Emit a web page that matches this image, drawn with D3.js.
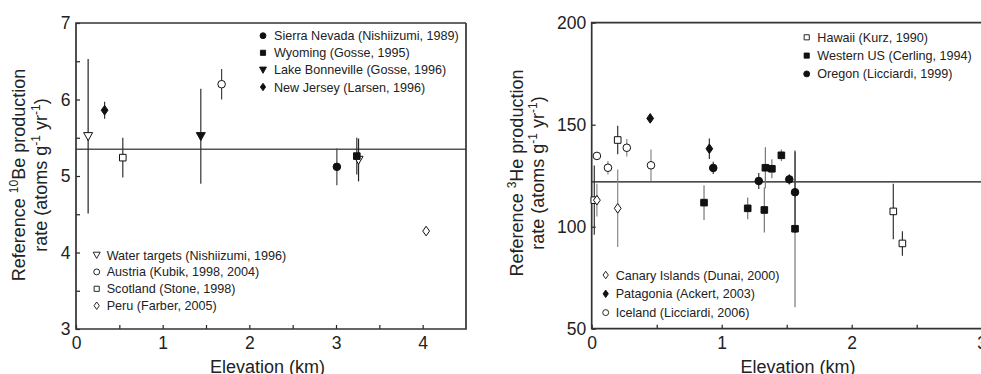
<!DOCTYPE html>
<html><head><meta charset="utf-8">
<script src="https://cdn.jsdelivr.net/npm/d3@7"></script>
<style>
html,body{margin:0;padding:0;background:#fff;}
svg{display:block;font-family:"Liberation Sans",Arial,Helvetica,sans-serif;}
</style></head>
<body>
<svg id="chart" width="981" height="374"></svg>
<script>
// ---------- DATA: left panel (10Be) — [elevation km, rate, error] ----------
const beSierraNevada   = [[3.01, 5.12, 0.24]];
const beWyoming        = [[3.24, 5.26, 0.24]];
const beLakeBonneville = [[1.44, 5.52, 0.62]];
const beNewJersey      = [[0.33, 5.86, 0.11]];
const beWaterTargets   = [[0.14, 5.52, 1.01], [3.26, 5.21, 0.28]];
const beAustria        = [[1.68, 6.20, 0.20]];
const beScotland       = [[0.54, 5.24, 0.26]];
const bePeru           = [[4.04, 4.28, 0]];
const beReference      = 5.35;
const beLegendTop    = ["Sierra Nevada (Nishiizumi, 1989)", "Wyoming (Gosse, 1995)", "Lake Bonneville (Gosse, 1996)", "New Jersey (Larsen, 1996)"];
const beLegendBottom = ["Water targets (Nishiizumi, 1996)", "Austria (Kubik, 1998, 2004)", "Scotland (Stone, 1998)", "Peru (Farber, 2005)"];
const beXTicks = [0, 1, 2, 3, 4];
const beYTicks = [3, 4, 5, 6, 7];

// ---------- DATA: right panel (3He) ----------
const heHawaii    = [[0.02, 113, 17], [0.20, 142.5, 7], [2.32, 107.5, 13.6], [2.39, 91.8, 6]];
const heWesternUS = [[0.864, 111.8, 8.5], [1.20, 109, 5.3], [1.328, 108.2, 11], [1.336, 128.9, 10], [1.386, 128.4, 4.7], [1.459, 135, 2.8], [1.564, 99, 38.5]];
const heOregon    = [[0.935, 128.8, 3], [1.285, 122.4, 3.9], [1.52, 123.2, 2.5], [1.564, 116.9, 20]];
const heCanary    = [[0.04, 113, 8], [0.20, 109, 19]];
const hePatagonia = [[0.45, 153.1, 2], [0.905, 138.2, 5]];
const heIceland   = [[0.04, 134.7, 0], [0.125, 128.9, 3.3], [0.27, 138.7, 4.3], [0.456, 130.1, 7.7]];
const heReference = 122;
const heLegendTop    = ["Hawaii (Kurz, 1990)", "Western US (Cerling, 1994)", "Oregon (Licciardi, 1999)"];
const heLegendBottom = ["Canary Islands (Dunai, 2000)", "Patagonia (Ackert, 2003)", "Iceland (Licciardi, 2006)"];
const heXTicks = [0, 1, 2, 3];
const heYTicks = [50, 100, 150, 200];

// ---------- drawing ----------
const svg = d3.select("#chart");
const INK = "#222";

function symPath(type, s) {
  switch (type) {
    case "circle": { const r = 3.8*s; return `M${r},0A${r},${r} 0 1,1 ${-r},0A${r},${r} 0 1,1 ${r},0Z`; }
    case "square": { const h = 3.3*s; return `M${-h},${-h}H${h}V${h}H${-h}Z`; }
    case "triDown": { const w = 4.5*s, t = 3.6*s, b = 4.4*s; return `M${-w},${-t}H${w}L0,${b}Z`; }
    case "diamond": { const w = 3.4*s, h = 4.8*s; return `M0,${-h}L${w},0L0,${h}L${-w},0Z`; }
  }
}

function drawPanel(cfg) {
  const g = svg.append("g");
  const x = cfg.x, y = cfg.y;
  const [x0] = x.range(), [y0, y1] = y.range();
  const xAxis = d3.axisBottom(x).tickValues(cfg.xMinor).tickSize(-4).tickPadding(8)
    .tickFormat(d => cfg.xTicks.includes(d) ? d3.format("d")(d) : "");
  const gx = g.append("g").attr("transform", `translate(0,${y0})`).call(xAxis);
  const yAxis = d3.axisLeft(y).tickValues(cfg.yMinor).tickSize(-4).tickPadding(5.5)
    .tickFormat(d => cfg.yTicks.includes(d) ? d3.format("d")(d) : "");
  const gy = g.append("g").attr("transform", `translate(${x0},0)`).call(yAxis);
  [gx, gy].forEach(a => {
    a.select(".domain").remove();
    a.selectAll(".tick line").attr("stroke", INK).attr("stroke-width", 1.2);
    a.selectAll(".tick text").attr("fill", INK).style("font-size", "17.5px")
      .style("font-family", '"Liberation Sans",Arial,sans-serif');
  });
  g.append("line").attr("x1", x0).attr("x2", cfg.frameRight)
    .attr("y1", y(cfg.ref)).attr("y2", y(cfg.ref))
    .attr("stroke", cfg.refColor).attr("stroke-width", 1.3);
  const fp = d3.path();
  fp.moveTo(cfg.frameRight, y1); fp.lineTo(x0, y1); fp.lineTo(x0, y0); fp.lineTo(cfg.frameRight, y0);
  if (cfg.closeRight) fp.lineTo(cfg.frameRight, y1);
  g.append("path").attr("d", fp.toString()).attr("fill", "none").attr("stroke", "#333").attr("stroke-width", 1.7);

  cfg.series.forEach(se => {
    g.append("g").selectAll("line").data(se.data.filter(d => d[2] > 0)).join("line")
      .attr("x1", d => x(d[0])).attr("x2", d => x(d[0]))
      .attr("y1", d => y(d[1] + d[2])).attr("y2", d => y(d[1] - d[2]))
      .attr("stroke", se.bar || "#333").attr("stroke-width", 1.2);
  });
  cfg.series.forEach(se => {
    g.append("g").selectAll("path").data(se.data).join("path")
      .attr("transform", d => `translate(${x(d[0])},${y(d[1])})`)
      .attr("d", symPath(se.shape, 1))
      .attr("fill", se.filled ? "#111" : "#fff")
      .attr("stroke", "#111").attr("stroke-width", 1);
  });
  cfg.legends.forEach(lg => {
    lg.items.forEach((it, i) => {
      const cy = lg.y + i * lg.dy;
      g.append("path").attr("transform", `translate(${lg.sx},${cy})`)
        .attr("d", symPath(it.shape, 0.78))
        .attr("fill", it.filled ? "#111" : "#fff").attr("stroke", "#111").attr("stroke-width", 0.9);
      g.append("text").attr("x", lg.tx).attr("y", cy).attr("dy", "0.36em")
        .attr("fill", INK).style("font-size", "12.6px").text(it.label);
    });
  });
  g.append("text").attr("x", cfg.xTitleX).attr("y", 373).attr("text-anchor", "middle")
    .attr("fill", INK).style("font-size", "18px").text("Elevation (km)");
  const yc = cfg.yTitleY;
  const t1 = g.append("text").attr("transform", `translate(${cfg.yTitle1X},${yc}) rotate(-90)`)
    .attr("text-anchor", "middle").attr("fill", INK).style("font-size", "18px");
  t1.append("tspan").text("Reference ");
  t1.append("tspan").attr("dy", -7).style("font-size", "12px").text(cfg.isotope[0]);
  t1.append("tspan").attr("dy", 7).text(cfg.isotope[1] + " production");
  const t2 = g.append("text").attr("transform", `translate(${cfg.yTitle2X},${yc}) rotate(-90)`)
    .attr("text-anchor", "middle").attr("fill", INK).style("font-size", "18px");
  t2.append("tspan").text("rate (atoms g");
  t2.append("tspan").attr("dy", -7).style("font-size", "12px").text("-1");
  t2.append("tspan").attr("dy", 7).text(" yr");
  t2.append("tspan").attr("dy", -7).style("font-size", "12px").text("-1");
  t2.append("tspan").attr("dy", 7).text(")");
}

const halfSteps = (a, b, s) => d3.range(a, b + s / 2, s).map(v => +v.toFixed(2));

const xL = d3.scaleLinear().domain([0, 4.5]).range([76, 466]);
const yL = d3.scaleLinear().domain([3, 7]).range([329, 23]);
drawPanel({
  x: xL, y: yL, frameRight: 466, closeRight: true,
  xMinor: halfSteps(0, 4, 0.5), xTicks: beXTicks,
  yMinor: halfSteps(3, 7, 0.5), yTicks: beYTicks,
  ref: beReference, refColor: "#555",
  series: [
    { data: beWaterTargets, shape: "triDown", filled: false, bar: "#222" },
    { data: beScotland, shape: "square", filled: false, bar: "#333" },
    { data: beAustria, shape: "circle", filled: false, bar: "#444" },
    { data: beLakeBonneville, shape: "triDown", filled: true, bar: "#333" },
    { data: beNewJersey, shape: "diamond", filled: true, bar: "#333" },
    { data: beSierraNevada, shape: "circle", filled: true, bar: "#444" },
    { data: beWyoming, shape: "square", filled: true, bar: "#333" },
    { data: bePeru, shape: "diamond", filled: false, bar: "#333" }
  ],
  legends: [
    { sx: 263, tx: 274, y: 35.7, dy: 17.1, items: [
      { shape: "circle", filled: true, label: beLegendTop[0] },
      { shape: "square", filled: true, label: beLegendTop[1] },
      { shape: "triDown", filled: true, label: beLegendTop[2] },
      { shape: "diamond", filled: true, label: beLegendTop[3] } ] },
    { sx: 96.7, tx: 106.7, y: 255, dy: 16.9, items: [
      { shape: "triDown", filled: false, label: beLegendBottom[0] },
      { shape: "circle", filled: false, label: beLegendBottom[1] },
      { shape: "square", filled: false, label: beLegendBottom[2] },
      { shape: "diamond", filled: false, label: beLegendBottom[3] } ] }
  ],
  xTitleX: 267.5, yTitleY: 175, yTitle1X: 25, yTitle2X: 46.5,
  isotope: ["10", "Be"]
});

const xR = d3.scaleLinear().domain([0, 3]).range([591.7, 981.7]);
const yR = d3.scaleLinear().domain([50, 200]).range([328.7, 22.7]);
drawPanel({
  x: xR, y: yR, frameRight: 990, closeRight: false,
  xMinor: halfSteps(0, 3, 0.5), xTicks: heXTicks,
  yMinor: heYTicks, yTicks: heYTicks,
  ref: heReference, refColor: "#111",
  series: [
    { data: heHawaii, shape: "square", filled: false, bar: "#333" },
    { data: heCanary, shape: "diamond", filled: false, bar: "#888" },
    { data: heIceland, shape: "circle", filled: false, bar: "#888" },
    { data: hePatagonia, shape: "diamond", filled: true, bar: "#333" },
    { data: heWesternUS, shape: "square", filled: true, bar: "#777" },
    { data: heOregon, shape: "circle", filled: true, bar: "#333" }
  ],
  legends: [
    { sx: 806.7, tx: 817.3, y: 37.3, dy: 18.3, items: [
      { shape: "square", filled: false, label: heLegendTop[0] },
      { shape: "square", filled: true, label: heLegendTop[1] },
      { shape: "circle", filled: true, label: heLegendTop[2] } ] },
    { sx: 605.7, tx: 615.7, y: 275, dy: 18.8, items: [
      { shape: "diamond", filled: false, label: heLegendBottom[0] },
      { shape: "diamond", filled: true, label: heLegendBottom[1] },
      { shape: "circle", filled: false, label: heLegendBottom[2] } ] }
  ],
  xTitleX: 798, yTitleY: 173, yTitle1X: 523, yTitle2X: 543.5,
  isotope: ["3", "He"]
});
</script>
</body></html>
